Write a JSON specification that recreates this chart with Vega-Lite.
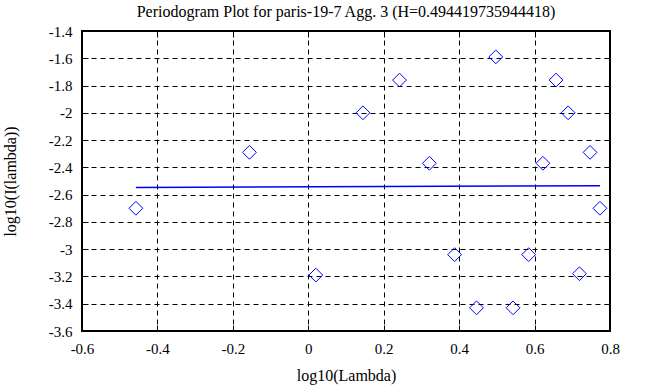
{
  "$schema": "https://vega.github.io/schema/vega-lite/v6.json",
  "width": 528,
  "height": 300,
  "autosize": "none",
  "padding": {"left": 82, "top": 31, "right": 43, "bottom": 56},
  "background": "white",
  "config": {
    "view": {"stroke": "black", "strokeWidth": 2},
    "font": "Times New Roman",
    "axis": {
      "domain": false,
      "labelFont": "Times New Roman",
      "labelFontSize": 15,
      "labelColor": "black",
      "titleFont": "Times New Roman",
      "titleFontSize": 16,
      "titleFontWeight": "normal",
      "titleColor": "black",
      "tickColor": "black",
      "tickWidth": 1,
      "tickSize": -6,
      "grid": false
    }
  },
  "title": {
    "text": "Periodogram Plot for paris-19-7 Agg. 3 (H=0.494419735944418)",
    "font": "Times New Roman",
    "fontSize": 16,
    "fontWeight": "normal",
    "color": "black",
    "anchor": "middle",
    "baseline": "alphabetic",
    "offset": -9
  },
  "datasets": {
    "pts": [
      {"lx": -0.45709, "li": -2.70},
      {"lx": -0.15606, "li": -2.29},
      {"lx": 0.02003, "li": -3.19},
      {"lx": 0.14497, "li": -2.00},
      {"lx": 0.24188, "li": -1.76},
      {"lx": 0.32105, "li": -2.37},
      {"lx": 0.38800, "li": -3.04},
      {"lx": 0.44599, "li": -3.43},
      {"lx": 0.49715, "li": -1.59},
      {"lx": 0.54290, "li": -3.43},
      {"lx": 0.58429, "li": -3.04},
      {"lx": 0.62208, "li": -2.37},
      {"lx": 0.65685, "li": -1.76},
      {"lx": 0.68903, "li": -2.00},
      {"lx": 0.71900, "li": -3.18},
      {"lx": 0.74702, "li": -2.29},
      {"lx": 0.77335, "li": -2.70}
    ],
    "fit": [
      {"lx": -0.45709, "li": -2.548},
      {"lx": 0.77335, "li": -2.535}
    ]
  },
  "layer": [
    {
      "data": {"name": "pts"},
      "mark": {"type": "point", "shape": "diamond", "filled": false, "stroke": "#0000ff", "strokeWidth": 1, "size": 190, "opacity": 1},
      "encoding": {
        "x": {
          "field": "lx", "type": "quantitative",
          "scale": {"domain": [-0.6, 0.8], "nice": false, "zero": false},
          "axis": {
            "orient": "bottom",
            "title": "log10(Lambda)",
            "values": [-0.6, -0.4, -0.2, 0, 0.2, 0.4, 0.6, 0.8],
            "labelExpr": "(datum.value < -0.0001 ? '-' : '') + format(abs(datum.value), '.2~f')",
            "labelFont": "Times New Roman",
            "labelFontSize": 15,
            "titleFont": "Times New Roman",
            "titleFontSize": 16,
            "labelPadding": 16,
            "labelFlush": false,
            "labelOverlap": false,
            "grid": true,
            "gridColor": "black",
            "gridDash": [5, 4],
            "gridWidth": 1,
            "gridOpacity": 1,
            "titleY": 49,
            "titleBaseline": "alphabetic"
          }
        },
        "y": {
          "field": "li", "type": "quantitative",
          "scale": {"domain": [-3.6, -1.4], "nice": false, "zero": false},
          "axis": {
            "orient": "left",
            "title": "log10(I(lambda))",
            "values": [-3.6, -3.4, -3.2, -3.0, -2.8, -2.6, -2.4, -2.2, -2.0, -1.8, -1.6, -1.4],
            "labelExpr": "(datum.value < -0.0001 ? '-' : '') + format(abs(datum.value), '.2~f')",
            "labelFont": "Times New Roman",
            "labelFontSize": 15,
            "titleFont": "Times New Roman",
            "titleFontSize": 16,
            "labelPadding": 16,
            "labelFlush": false,
            "labelOverlap": false,
            "labelBaseline": "middle",
            "grid": true,
            "gridColor": "black",
            "gridDash": [5, 4],
            "gridWidth": 1,
            "gridOpacity": 1,
            "titleX": -67,
            "titleBaseline": "alphabetic"
          }
        }
      }
    },
    {
      "data": {"name": "fit"},
      "mark": {"type": "line", "color": "#0000ff", "strokeWidth": 1.5},
      "encoding": {
        "x": {
          "field": "lx", "type": "quantitative",
          "scale": {"domain": [-0.6, 0.8], "nice": false, "zero": false},
          "axis": {
            "orient": "top",
            "title": null,
            "labels": false,
            "values": [-0.6, -0.4, -0.2, 0, 0.2, 0.4, 0.6, 0.8],
            "grid": false
          }
        },
        "y": {
          "field": "li", "type": "quantitative",
          "scale": {"domain": [-3.6, -1.4], "nice": false, "zero": false},
          "axis": {
            "orient": "right",
            "title": null,
            "labels": false,
            "values": [-3.6, -3.4, -3.2, -3.0, -2.8, -2.6, -2.4, -2.2, -2.0, -1.8, -1.6, -1.4],
            "grid": false
          }
        }
      }
    }
  ],
  "resolve": {"axis": {"x": "independent", "y": "independent"}}
}
